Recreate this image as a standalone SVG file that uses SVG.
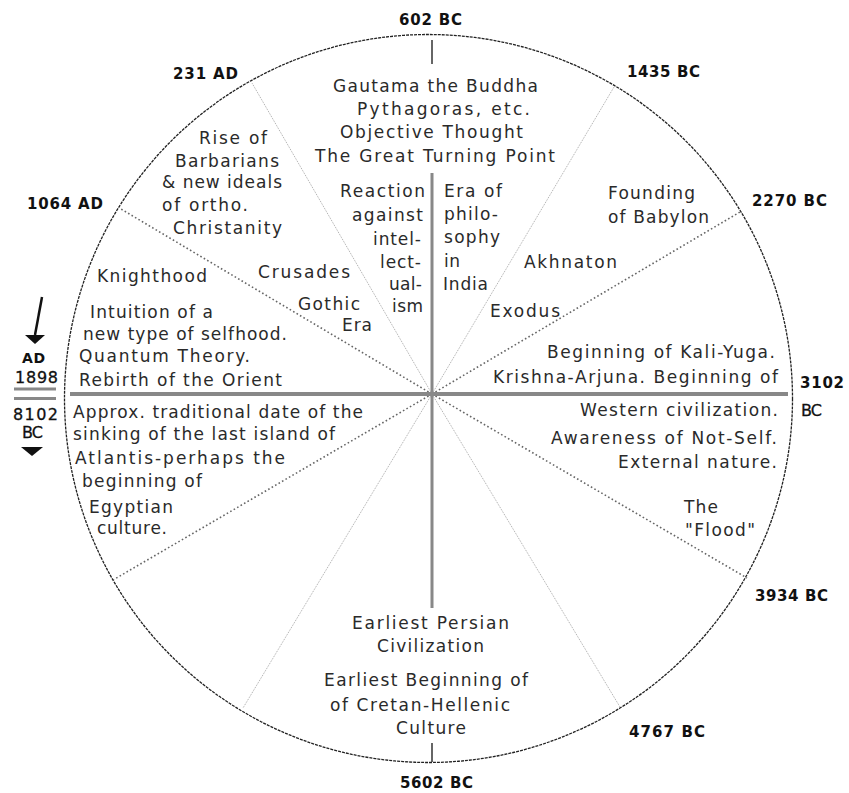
<svg xmlns="http://www.w3.org/2000/svg" width="849" height="793" viewBox="0 0 849 793">
<style>
.t{font-family:"DejaVu Sans",Verdana,sans-serif;font-size:17px;fill:#2a2a2a}
.d{font-family:"DejaVu Sans",Verdana,sans-serif;font-size:15px;font-weight:bold;fill:#111}
.s{font-family:"DejaVu Sans",Verdana,sans-serif;font-size:14px;font-weight:bold;fill:#111}
.r{font-family:"DejaVu Sans",Verdana,sans-serif;font-size:16px;fill:#111;stroke:#111;stroke-width:0.3}
.dot{stroke:#666;stroke-width:1.6;stroke-dasharray:1.6 2.4;fill:none}
.thin{stroke:#aaa;stroke-width:1;stroke-dasharray:1 1;fill:none}
.axis{stroke:#888;fill:none}
.tick{stroke:#333;stroke-width:1.5}
</style>
<rect width="849" height="793" fill="#fff"/>
<g id="connectors">
<circle cx="428.5" cy="398.5" r="364" fill="none" stroke="#222" stroke-width="1.3" stroke-dasharray="3 1"/>
<line class="dot" x1="432" y1="394" x2="121" y2="209"/>
<line class="dot" x1="432" y1="394" x2="740" y2="212"/>
<line class="dot" x1="432" y1="394" x2="747" y2="578"/>
<line class="dot" x1="432" y1="394" x2="113" y2="580"/>
<line class="thin" x1="432" y1="394" x2="252" y2="83"/>
<line class="thin" x1="432" y1="394" x2="614" y2="87"/>
<line class="thin" x1="432" y1="394" x2="620" y2="707"/>
<line class="thin" x1="432" y1="394" x2="243" y2="708"/>
<line class="axis" x1="70" y1="394" x2="788" y2="394" stroke-width="4"/>
<line class="axis" x1="432" y1="173" x2="432" y2="608" stroke-width="3"/>
<line class="tick" x1="432" y1="40" x2="432" y2="64"/>
<line class="tick" x1="432" y1="743" x2="432" y2="762"/>
</g>
<g id="dates">
<text class="d" x="399" y="25" textLength="63" lengthAdjust="spacing">602 BC</text>
<text class="d" x="173" y="79" textLength="65" lengthAdjust="spacing">231 AD</text>
<text class="d" x="627" y="77" textLength="73" lengthAdjust="spacing">1435 BC</text>
<text class="d" x="27" y="209" textLength="76" lengthAdjust="spacing">1064 AD</text>
<text class="d" x="752" y="206" textLength="75" lengthAdjust="spacing">2270 BC</text>
<text class="d" x="800" y="388" textLength="44" lengthAdjust="spacing">3102</text>
<text class="r" x="801" y="416" textLength="21" lengthAdjust="spacing">BC</text>
<text class="d" x="755" y="601" textLength="73" lengthAdjust="spacing">3934 BC</text>
<text class="d" x="629" y="737" textLength="76" lengthAdjust="spacing">4767 BC</text>
<text class="d" x="400" y="788" textLength="73" lengthAdjust="spacing">5602 BC</text>
</g>
<g id="marker-1898">
<line x1="42" y1="297" x2="35" y2="335" stroke="#111" stroke-width="2.5"/>
<polygon points="25,335 45,335 35,344" fill="#111"/>
<text class="s" x="22" y="363" textLength="23" lengthAdjust="spacing">AD</text>
<text class="r" x="15" y="383" textLength="43" lengthAdjust="spacing">1898</text>
<line x1="14" y1="389" x2="56" y2="389" stroke="#888" stroke-width="3"/>
<line x1="14" y1="398.5" x2="56" y2="398.5" stroke="#888" stroke-width="3"/>
<text class="r" x="13" y="420" textLength="45" lengthAdjust="spacing">8102</text>
<text class="r" x="22" y="438" textLength="21" lengthAdjust="spacing">BC</text>
<polygon points="21,447 43,447 32,456" fill="#111"/>
</g>
<g id="sector-top">
<text class="t" x="333" y="92" textLength="205" lengthAdjust="spacing">Gautama the Buddha</text>
<text class="t" x="357" y="115" textLength="173" lengthAdjust="spacing">Pythagoras, etc.</text>
<text class="t" x="340" y="138" textLength="183" lengthAdjust="spacing">Objective Thought</text>
<text class="t" x="315" y="162" textLength="240" lengthAdjust="spacing">The Great Turning Point</text>
</g>
<g id="sector-231">
<text class="t" x="199" y="144" textLength="68" lengthAdjust="spacing">Rise of</text>
<text class="t" x="175" y="167" textLength="104" lengthAdjust="spacing">Barbarians</text>
<text class="t" x="162" y="188" textLength="120" lengthAdjust="spacing">&amp; new ideals</text>
<text class="t" x="162" y="211" textLength="86" lengthAdjust="spacing">of ortho.</text>
<text class="t" x="173" y="234" textLength="109" lengthAdjust="spacing">Christanity</text>
</g>
<g id="sector-reaction">
<text class="t" x="340" y="197" textLength="85" lengthAdjust="spacing">Reaction</text>
<text class="t" x="352" y="221" textLength="71" lengthAdjust="spacing">against</text>
<text class="t" x="373" y="245" textLength="48" lengthAdjust="spacing">intel-</text>
<text class="t" x="380" y="268" textLength="41" lengthAdjust="spacing">lect-</text>
<text class="t" x="389" y="290" textLength="33" lengthAdjust="spacing">ual-</text>
<text class="t" x="392" y="312" textLength="31" lengthAdjust="spacing">ism</text>
</g>
<g id="sector-india">
<text class="t" x="444" y="197" textLength="58" lengthAdjust="spacing">Era of</text>
<text class="t" x="444" y="220" textLength="54" lengthAdjust="spacing">philo-</text>
<text class="t" x="444" y="243" textLength="56" lengthAdjust="spacing">sophy</text>
<text class="t" x="444" y="267" textLength="16" lengthAdjust="spacing">in</text>
<text class="t" x="443" y="290" textLength="45" lengthAdjust="spacing">India</text>
</g>
<g id="sector-1435">
<text class="t" x="608" y="199" textLength="87" lengthAdjust="spacing">Founding</text>
<text class="t" x="608" y="223" textLength="101" lengthAdjust="spacing">of Babylon</text>
<text class="t" x="524" y="268" textLength="93" lengthAdjust="spacing">Akhnaton</text>
<text class="t" x="490" y="317" textLength="70" lengthAdjust="spacing">Exodus</text>
</g>
<g id="sector-2270">
<text class="t" x="547" y="358" textLength="228" lengthAdjust="spacing">Beginning of Kali-Yuga.</text>
<text class="t" x="493" y="383" textLength="285" lengthAdjust="spacing">Krishna-Arjuna. Beginning of</text>
</g>
<g id="sector-3102">
<text class="t" x="580" y="416" textLength="198" lengthAdjust="spacing">Western civilization.</text>
<text class="t" x="551" y="444" textLength="226" lengthAdjust="spacing">Awareness of Not-Self.</text>
<text class="t" x="618" y="468" textLength="159" lengthAdjust="spacing">External nature.</text>
<text class="t" x="684" y="513" textLength="34" lengthAdjust="spacing">The</text>
<text class="t" x="685" y="536" textLength="70" lengthAdjust="spacing">"Flood"</text>
</g>
<g id="sector-1064">
<text class="t" x="97" y="282" textLength="110" lengthAdjust="spacing">Knighthood</text>
<text class="t" x="258" y="278" textLength="92" lengthAdjust="spacing">Crusades</text>
<text class="t" x="298" y="310" textLength="62" lengthAdjust="spacing">Gothic</text>
<text class="t" x="342" y="331" textLength="30" lengthAdjust="spacing">Era</text>
<text class="t" x="90" y="318" textLength="123" lengthAdjust="spacing">Intuition of a</text>
<text class="t" x="83" y="340" textLength="204" lengthAdjust="spacing">new type of selfhood.</text>
<text class="t" x="79" y="362" textLength="171" lengthAdjust="spacing">Quantum Theory.</text>
<text class="t" x="79" y="386" textLength="203" lengthAdjust="spacing">Rebirth of the Orient</text>
</g>
<g id="sector-8102">
<text class="t" x="73" y="418" textLength="290" lengthAdjust="spacing">Approx. traditional date of the</text>
<text class="t" x="73" y="440" textLength="262" lengthAdjust="spacing">sinking of the last island of</text>
<text class="t" x="75" y="464" textLength="210" lengthAdjust="spacing">Atlantis-perhaps the</text>
<text class="t" x="82" y="487" textLength="120" lengthAdjust="spacing">beginning of</text>
<text class="t" x="89" y="513" textLength="84" lengthAdjust="spacing">Egyptian</text>
<text class="t" x="97" y="534" textLength="70" lengthAdjust="spacing">culture.</text>
</g>
<g id="sector-bottom">
<text class="t" x="352" y="629" textLength="157" lengthAdjust="spacing">Earliest Persian</text>
<text class="t" x="377" y="652" textLength="107" lengthAdjust="spacing">Civilization</text>
<text class="t" x="324" y="686" textLength="204" lengthAdjust="spacing">Earliest Beginning of</text>
<text class="t" x="330" y="711" textLength="180" lengthAdjust="spacing">of Cretan-Hellenic</text>
<text class="t" x="396" y="734" textLength="70" lengthAdjust="spacing">Culture</text>
</g>
</svg>
